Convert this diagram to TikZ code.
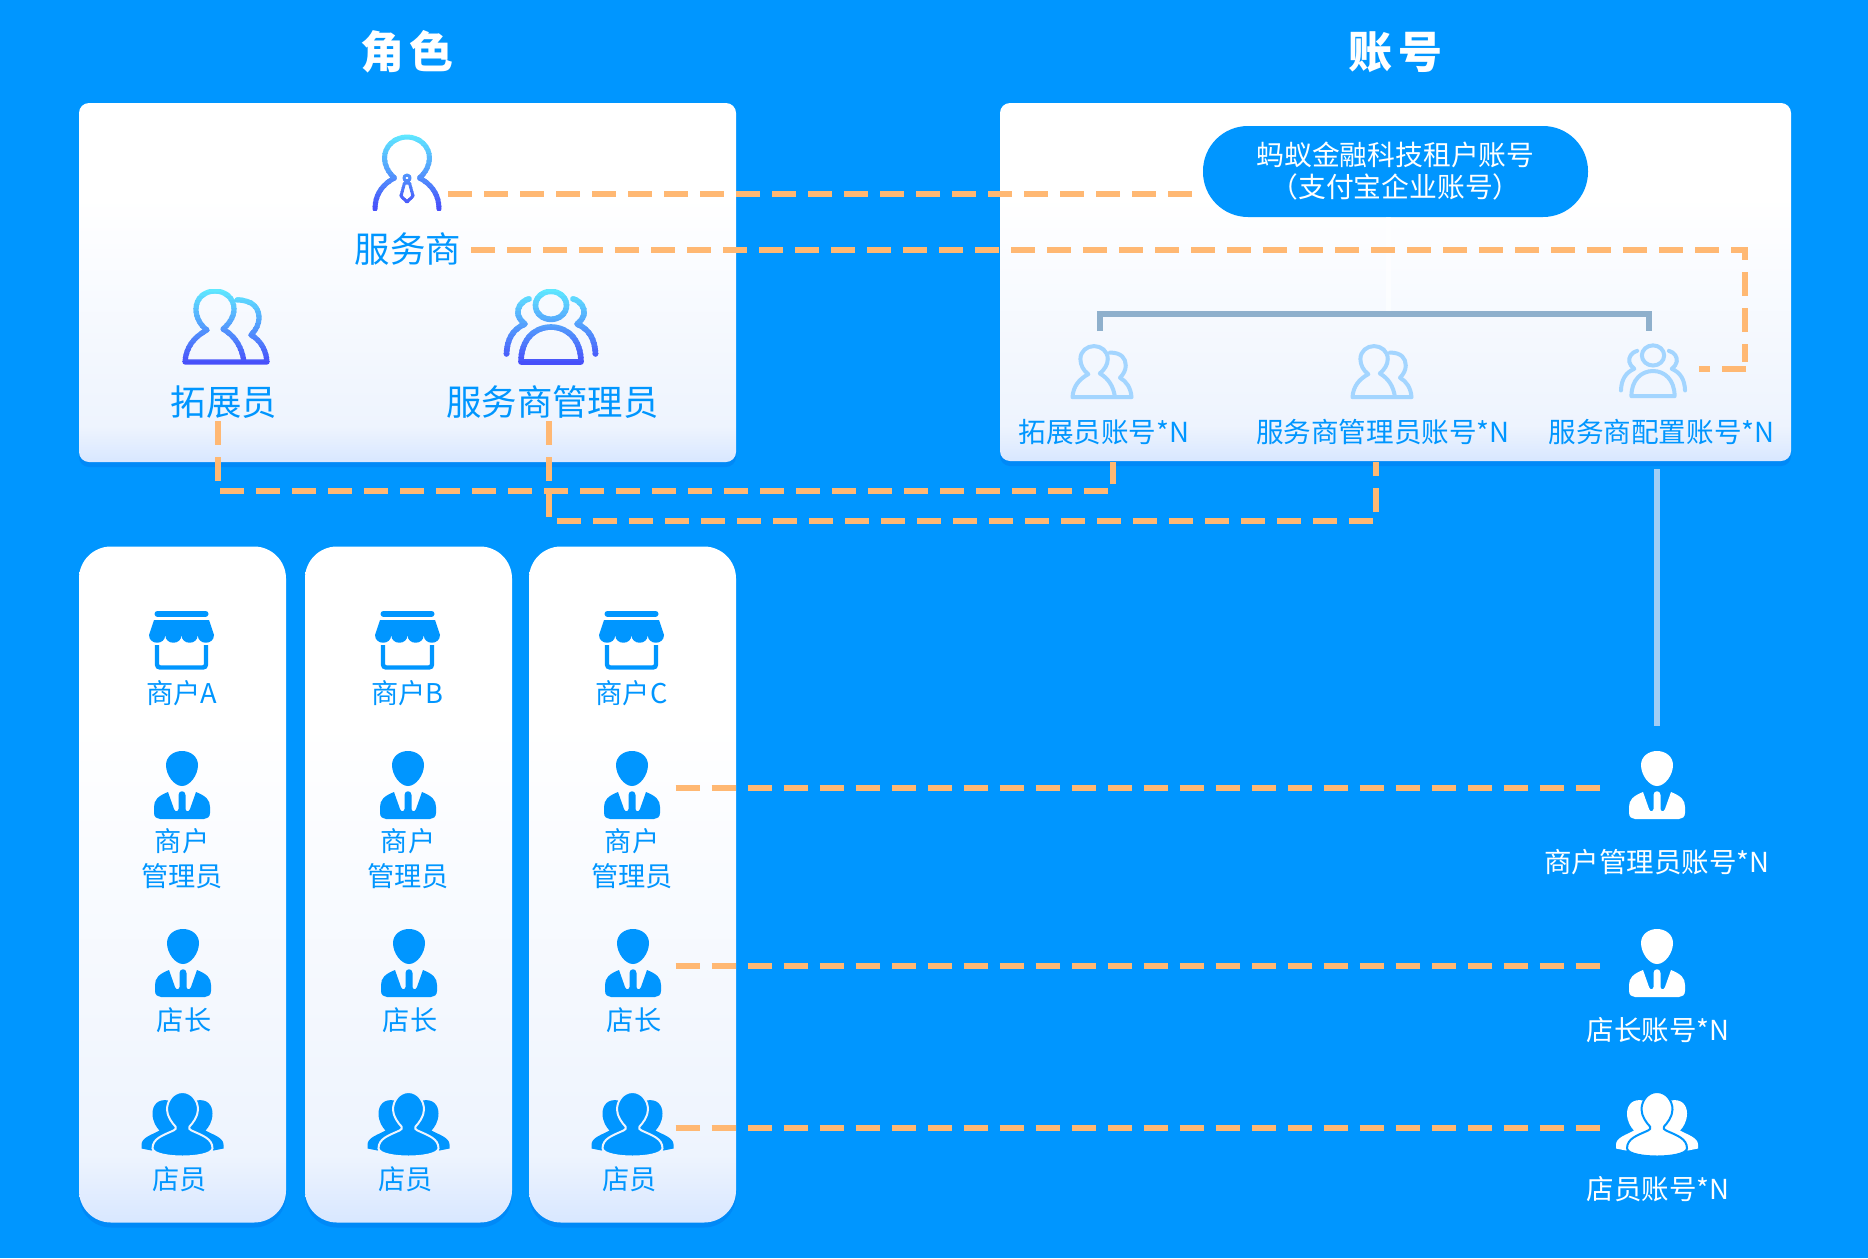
\documentclass[tikz,border=0pt]{standalone}
\usepackage{fontspec}
\setmainfont{Noto Sans CJK SC}
\usetikzlibrary{positioning, calc, shadows}

\definecolor{brand}{RGB}{0,150,255}
\definecolor{shadeblue}{RGB}{0,132,245}
\definecolor{cardlow}{RGB}{216,231,255}
\definecolor{cardmid}{RGB}{238,244,254}
\definecolor{dashorange}{RGB}{255,184,115}
\definecolor{bracketgrey}{RGB}{143,176,204}
\definecolor{stemblue}{RGB}{160,205,245}
\definecolor{icontop}{RGB}{95,232,255}
\definecolor{iconlow}{RGB}{70,72,250}
\definecolor{iconlight}{RGB}{163,213,255}

\pgfdeclareverticalshading{cardfade}{100bp}{color(0bp)=(cardlow); color(25bp)=(cardlow); color(30bp)=(cardmid); color(62bp)=(white); color(100bp)=(white)}

\newcommand{\gradstroke}[4]{
    \foreach \k in {0,...,19}{
        \pgfmathsetmacro\ya{#2+(#3-#2)*\k/20}
        \pgfmathsetmacro\yb{\ya+(#3-#2)/20+0.4}
        \pgfmathsetmacro\mixp{\k*5}
        \begin{scope}
            \clip (-60,\ya) rectangle (60,\yb);
            \draw[line width=#1, line cap=round, line join=round, draw=iconlow!\mixp!icontop] #4;
        \end{scope}
    }
}
\def\agentpath{(-32,37) .. controls (-32,22) and (-24,12) .. (-12.5,6) .. controls (-19,0) and (-22.5,-7) .. (-22.5,-14) .. controls (-22.5,-26) and (-12,-35) .. (0,-35) .. controls (12,-35) and (22.5,-26) .. (22.5,-14) .. controls (22.5,-7) and (19,0) .. (12.5,6) .. controls (24,12) and (32,22) .. (32,37)}
\def\agenttie{(0,6) circle[radius=3] (-2.5,11) -- (-6,24) -- (0,30) -- (6,24) -- (2.5,11) -- cycle}
\def\duopath{(18,35) .. controls (16,20) and (9,9) .. (-3,2) .. controls (3,-3) and (8,-10) .. (8,-18) .. controls (8,-29) and (-1,-36) .. (-11,-36) .. controls (-21,-36) and (-30,-29) .. (-30,-18) .. controls (-30,-10) and (-26,-2) .. (-19,3) .. controls (-32,10) and (-40,20) .. (-41,35) -- (41,35) .. controls (40,22) and (34,13) .. (25,8) .. controls (30,3) and (33,-3) .. (33,-9) .. controls (33,-19) and (27,-27) .. (11,-27)}
\def\triopath{(0,-21.6) ellipse[x radius=15.5, y radius=14] (-30,35) .. controls (-30,12) and (-16,0) .. (0,0) .. controls (16,0) and (30,12) .. (30,35) -- cycle (-22,-28) .. controls (-30,-26) and (-34,-19) .. (-33,-13) .. controls (-32,-9) and (-30,-6) .. (-26,-3) .. controls (-38,2) and (-44,12) .. (-44.5,27) (22,-28) .. controls (30,-26) and (34,-19) .. (33,-13) .. controls (32,-9) and (30,-6) .. (26,-3) .. controls (38,2) and (44,12) .. (44.5,27)}
\def\crewback{(-14,-24) .. controls (-24,-26) and (-30,-20) .. (-30,-11) .. controls (-30,-3) and (-26,3) .. (-23,6) .. controls (-30,10) and (-41,13) .. (-41,20) -- (-41,24) -- (-31,26) -- (0,10) -- cycle}

\tikzset{
    cardbox/.style={rectangle, rounded corners=#1, inner sep=0pt, shading=cardfade, drop shadow={shadow xshift=0pt, shadow yshift=-5pt, fill=shadeblue, opacity=.7}},
    cardbox/.default=10pt,
    iconspot/.style={rectangle, inner sep=0pt, minimum width=56pt, minimum height=68pt},
    titletext/.style={text=white, font=\fontsize{44}{50}\selectfont\bfseries},
    rolelabel/.style={text=brand, inner sep=0pt, font=\fontsize{35.4}{40}\selectfont},
    acctlabel/.style={text=brand, inner sep=0pt, font=\fontsize{27.6}{32}\selectfont},
    celllabel/.style={text=brand, inner sep=0pt, align=center, font=\fontsize{27.2}{35}\selectfont},
    whitelabel/.style={text=white, inner sep=0pt, font=\fontsize{27.5}{32}\selectfont},
    dashlink/.style={draw=dashorange, line width=6pt, dash pattern=on 24pt off 12pt},
    pics/agent/.style={code={
        \gradstroke{5pt}{-38}{38}{\agentpath}
        \gradstroke{3pt}{-38}{38}{\agenttie}
    }},
    pics/duo/.style={code={\gradstroke{5.2pt}{-38}{38}{\duopath}}},
    pics/trio/.style={code={\gradstroke{5.6pt}{-38}{38}{\triopath}}},
    pics/duolight/.style={code={\draw[iconlight, line width=4pt, line cap=round, line join=round] \duopath;}},
    pics/triolight/.style={code={\draw[iconlight, line width=4pt, line cap=round, line join=round] \triopath;}},
    pics/shop/.style={code={
        \draw[brand, line width=6pt, line cap=round] (-24,-26.3) -- (24,-26.3);
        \fill[brand] (-27.5,-20) -- (27.5,-20) -- (32.5,-5) .. controls (32.5,5.3) and (16.25,5.3) .. (16.25,-5) .. controls (16.25,5.3) and (0,5.3) .. (0,-5) .. controls (0,5.3) and (-16.25,5.3) .. (-16.25,-5) .. controls (-16.25,5.3) and (-32.5,5.3) .. (-32.5,-5) -- cycle;
        \draw[brand, line width=4.4pt, rounded corners=3pt] (-24.5,5) -- (-24.5,27.5) -- (24.5,27.5) -- (24.5,5);
    }},
    pics/boss/.style={code={
        \fill[#1] (0,-34) .. controls (9,-34) and (16,-28) .. (16,-20) .. controls (16,-10) and (8,1) .. (0,1) .. controls (-8,1) and (-16,-10) .. (-16,-20) .. controls (-16,-28) and (-9,-34) .. (0,-34) -- cycle;
        \fill[#1] (-14,7) -- (-8,24) .. controls (-7,27) and (-4,27) .. (-3.5,24) -- (-3.5,10) .. controls (-3.5,5) and (3.5,5) .. (3.5,10) -- (3.5,24) .. controls (4,27) and (7,27) .. (8,24) -- (14,7) .. controls (24,11) and (28,15) .. (28,22) -- (28,28) .. controls (28,32) and (25,34) .. (22,34) -- (-22,34) .. controls (-25,34) and (-28,32) .. (-28,28) -- (-28,22) .. controls (-28,15) and (-24,11) .. (-14,7) -- cycle;
    }},
    pics/crew/.style 2 args={code={
        \fill[#1] \crewback;
        \fill[#1, xscale=-1] \crewback;
        \draw[fill=#1, draw=#2, line width=2pt] (0,-32.5) .. controls (9,-32.5) and (15.5,-24) .. (15.5,-15) .. controls (15.5,-8) and (10,-1) .. (7,2) .. controls (6,4) and (7,5) .. (9,6) .. controls (20,11) and (30,14) .. (30,24) .. controls (29,30) and (12,32) .. (0,32) .. controls (-12,32) and (-29,30) .. (-30,24) .. controls (-30,14) and (-20,11) .. (-9,6) .. controls (-7,5) and (-6,4) .. (-7,2) .. controls (-10,-1) and (-15.5,-8) .. (-15.5,-15) .. controls (-15.5,-24) and (-9,-32.5) .. (0,-32.5) -- cycle;
    }}
}

\begin{document}
\begin{tikzpicture}[x=1pt, y=-1pt, on grid]
    \fill[brand] (0,0) rectangle (1868,1258);
    \useasboundingbox (0,0) rectangle (1868,1258);

    \node[titletext] (roletitle) at (407,52) {角\kern6pt 色};
    \node[titletext] (accttitle) at (1395,52) {账\kern6pt 号};

    \node[cardbox, minimum width=657pt, minimum height=359pt] (rolecard) at (407.5,282.5) {};
    \node[cardbox, minimum width=791pt, minimum height=358pt] (acctcard) at (1395.5,282) {};

    \node[iconspot] (srvicon) at (407,172) {};
    \pic at (srvicon) {agent};
    \node[rolelabel] (srvtext) [below right=76.5pt and 1pt of srvicon] {服务商};
    \node[iconspot] (expicon) at (226,327) {};
    \pic at (expicon) {duo};
    \node[rolelabel] (exptext) [below left=75pt and 2pt of expicon] {拓展员};
    \node[iconspot] (admicon) at (551,327) {};
    \pic at (admicon) {trio};
    \node[rolelabel] (admtext) [below right=75pt and 1.5pt of admicon] {服务商管理员};

    \node[rectangle, rounded corners=45pt, fill=brand, minimum width=385pt, minimum height=91pt, inner sep=0pt, text=white, align=center, font=\fontsize{27.8}{32}\selectfont] (tenant) at (1395.5,171.5) {蚂蚁金融科技租户账号\\（支付宝企业账号）};

    \node[iconspot] (expacct) at (1102,372) {};
    \pic[scale=.72] at (expacct) {duolight};
    \node[acctlabel] (exptag) [below right=60pt and 2pt of expacct] {拓展员账号*N};
    \node[iconspot] (admacct) at (1382,372) {};
    \pic[scale=.72] at (admacct) {duolight};
    \node[acctlabel] (admtag) [below right=60pt and 1pt of admacct] {服务商管理员账号*N};
    \node[iconspot] (cfgacct) at (1653,371) {};
    \pic[scale=.72] at (cfgacct) {triolight};
    \node[acctlabel] (cfgtag) [below right=61pt and 8.5pt of cfgacct] {服务商配置账号*N};

    \foreach \col/\dx in {A/0,B/226,C/450}{
        \node[cardbox=32pt, minimum width=207pt, minimum height=676pt] (column\col) at (182.5+\dx,884.5) {};
        \node[iconspot] (shop\col) at (181.5+\dx,640) {};
        \pic at (shop\col) {shop};
        \node[celllabel] (shoptext\col) [below=53pt of shop\col] {商户\col};
        \node[iconspot] (mgr\col) at (182+\dx,785) {};
        \pic at (mgr\col) {boss=brand};
        \node[celllabel] (mgrtext\col) [below=74pt of mgr\col] {商户\\管理员};
        \node[iconspot] (head\col) at (183+\dx,963) {};
        \pic at (head\col) {boss=brand};
        \node[celllabel] (headtext\col) [below right=57pt and 1pt of head\col] {店长};
        \node[iconspot, minimum width=81pt, minimum height=63pt] (clerk\col) at (182.5+\dx,1124.5) {};
        \pic at (clerk\col) {crew={brand}{cardmid}};
        \node[celllabel] (clerktext\col) [below left=55pt and 3pt of clerk\col] {店员};
    }

    \node[iconspot] (mgracct) at (1657,785) {};
    \pic at (mgracct) {boss=white};
    \node[whitelabel] (mgrtag) [below=77pt of mgracct] {商户管理员账号*N};
    \node[iconspot] (headacct) at (1657,963) {};
    \pic at (headacct) {boss=white};
    \node[whitelabel] (headtag) [below right=67pt and 1pt of headacct] {店长账号*N};
    \node[iconspot, minimum width=81pt, minimum height=63pt] (clerkacct) at (1657,1124.5) {};
    \pic at (clerkacct) {crew={white}{brand}};
    \node[whitelabel] (clerktag) [below right=64.5pt and 1pt of clerkacct] {店员账号*N};

    \coordinate (srvtop) at (448,194);
    \coordinate (srvlow) at (471,250);
    \coordinate (cfgdrop) at (1745,362);
    \coordinate (cfgturn) at (1746,369);
    \coordinate (cfgin) at (1699,369);
    \coordinate (expdrop) at (218,421);
    \coordinate (admdrop) at (549,421);
    \coordinate (brkl) at (1100,331);
    \coordinate (brkr) at (1649,331);
    \coordinate (stem) at (1657,469);

    \draw[white, opacity=.6, line width=5pt] (tenant.south -| 1388,0) -- (1388,311);
    \draw[bracketgrey, line width=6pt] (brkl) -- ++(0,-17) -| (brkr);
    \draw[stemblue, line width=6pt, shorten >=25pt] (stem) -- (mgracct.north);

    \draw[dashlink, shorten >=11pt] (srvtop) -- (srvtop -| tenant.west);
    \draw[dashlink] (srvlow) -| (cfgdrop);
    \draw[dashlink] (cfgturn) -- (cfgin);
    \draw[dashlink] (expdrop) |- (1113,491) -- (1113,462);
    \draw[dashlink] (admdrop) |- (1376,521) -- (1376,462);
    \draw[dashlink, shorten <=15.5pt, shorten >=29pt] ([yshift=-3pt]mgrC.east) -- ([yshift=-3pt]mgracct.west);
    \draw[dashlink, shorten <=14.5pt, shorten >=29pt] ([yshift=-3pt]headC.east) -- ([yshift=-3pt]headacct.west);
    \draw[dashlink, shorten <=2.5pt, shorten >=16pt] ([yshift=-3.5pt]clerkC.east) -- ([yshift=-3.5pt]clerkacct.west);
\end{tikzpicture}
\end{document}
